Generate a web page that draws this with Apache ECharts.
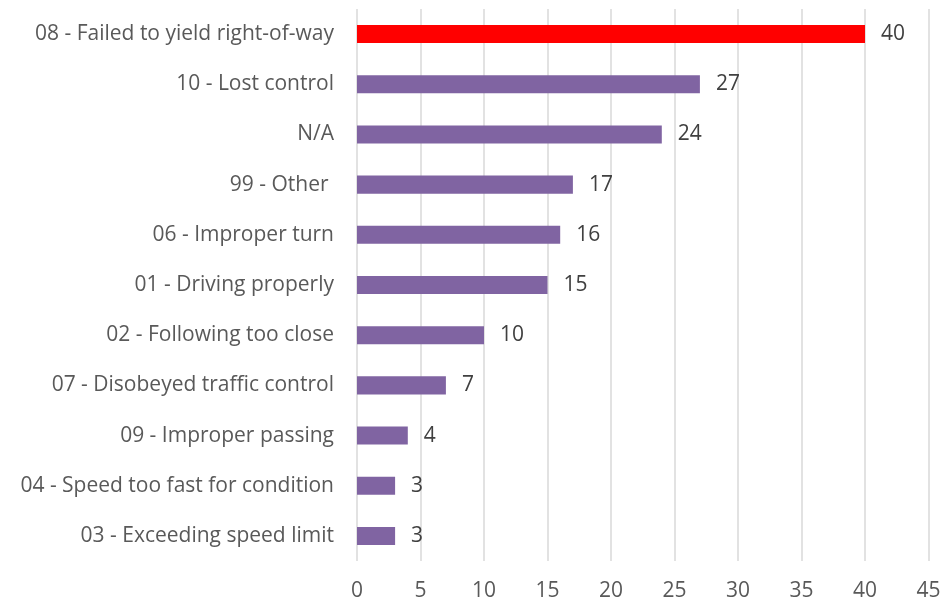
<!DOCTYPE html>
<html>
<head>
<meta charset="utf-8">
<script src="https://cdn.jsdelivr.net/npm/echarts@6/dist/echarts.min.js"></script>
<style>
  html, body { margin: 0; padding: 0; background: #fff; }
  #chart { width: 945px; height: 602px; }
</style>
</head>
<body>
<div id="chart"></div>
<script>
// top to bottom
var categories = [
  "08 - Failed to yield right-of-way",
  "10 - Lost control",
  "N/A",
  "99 - Other ",
  "06 - Improper turn",
  "01 - Driving properly",
  "02 - Following too close",
  "07 - Disobeyed traffic control",
  "09 - Improper passing",
  "04 - Speed too fast for condition",
  "03 - Exceeding speed limit"
];
var counts = [40, 27, 24, 17, 16, 15, 10, 7, 4, 3, 3];
var highlightIndex = 0;

var myChart = echarts.init(document.getElementById("chart"));
var font = "'Open Sans', sans-serif";

var option = {
  animation: false,
  grid: {
    left: 357,
    right: 16.5,
    top: 9,
    bottom: 40
  },
  xAxis: {
    type: "value",
    min: 0,
    max: 45,
    interval: 5,
    axisLine: { show: false },
    axisTick: { show: false },
    splitLine: { lineStyle: { color: "#d9d9d9", width: 1.5 } },
    axisLabel: {
      color: "#595959",
      fontSize: 21,
      fontFamily: font,
      margin: 20
    }
  },
  yAxis: {
    type: "category",
    inverse: true,
    data: categories,
    axisLine: { show: false },
    axisTick: { show: false },
    axisLabel: {
      color: "#595959",
      fontSize: 21,
      fontFamily: font,
      margin: 23,
      padding: [0, 0, 4, 0]
    }
  },
  series: [
    {
      type: "bar",
      barWidth: "36%",
      data: counts.map(function (v, i) {
        return {
          value: v,
          itemStyle: { color: i === highlightIndex ? "#ff0000" : "#8064a2" }
        };
      }),
      label: {
        show: true,
        position: "right",
        distance: 16,
        color: "#404040",
        fontSize: 21,
        fontFamily: font,
        padding: [0, 0, 4, 0]
      }
    }
  ]
};

myChart.setOption(option);
</script>
</body>
</html>
